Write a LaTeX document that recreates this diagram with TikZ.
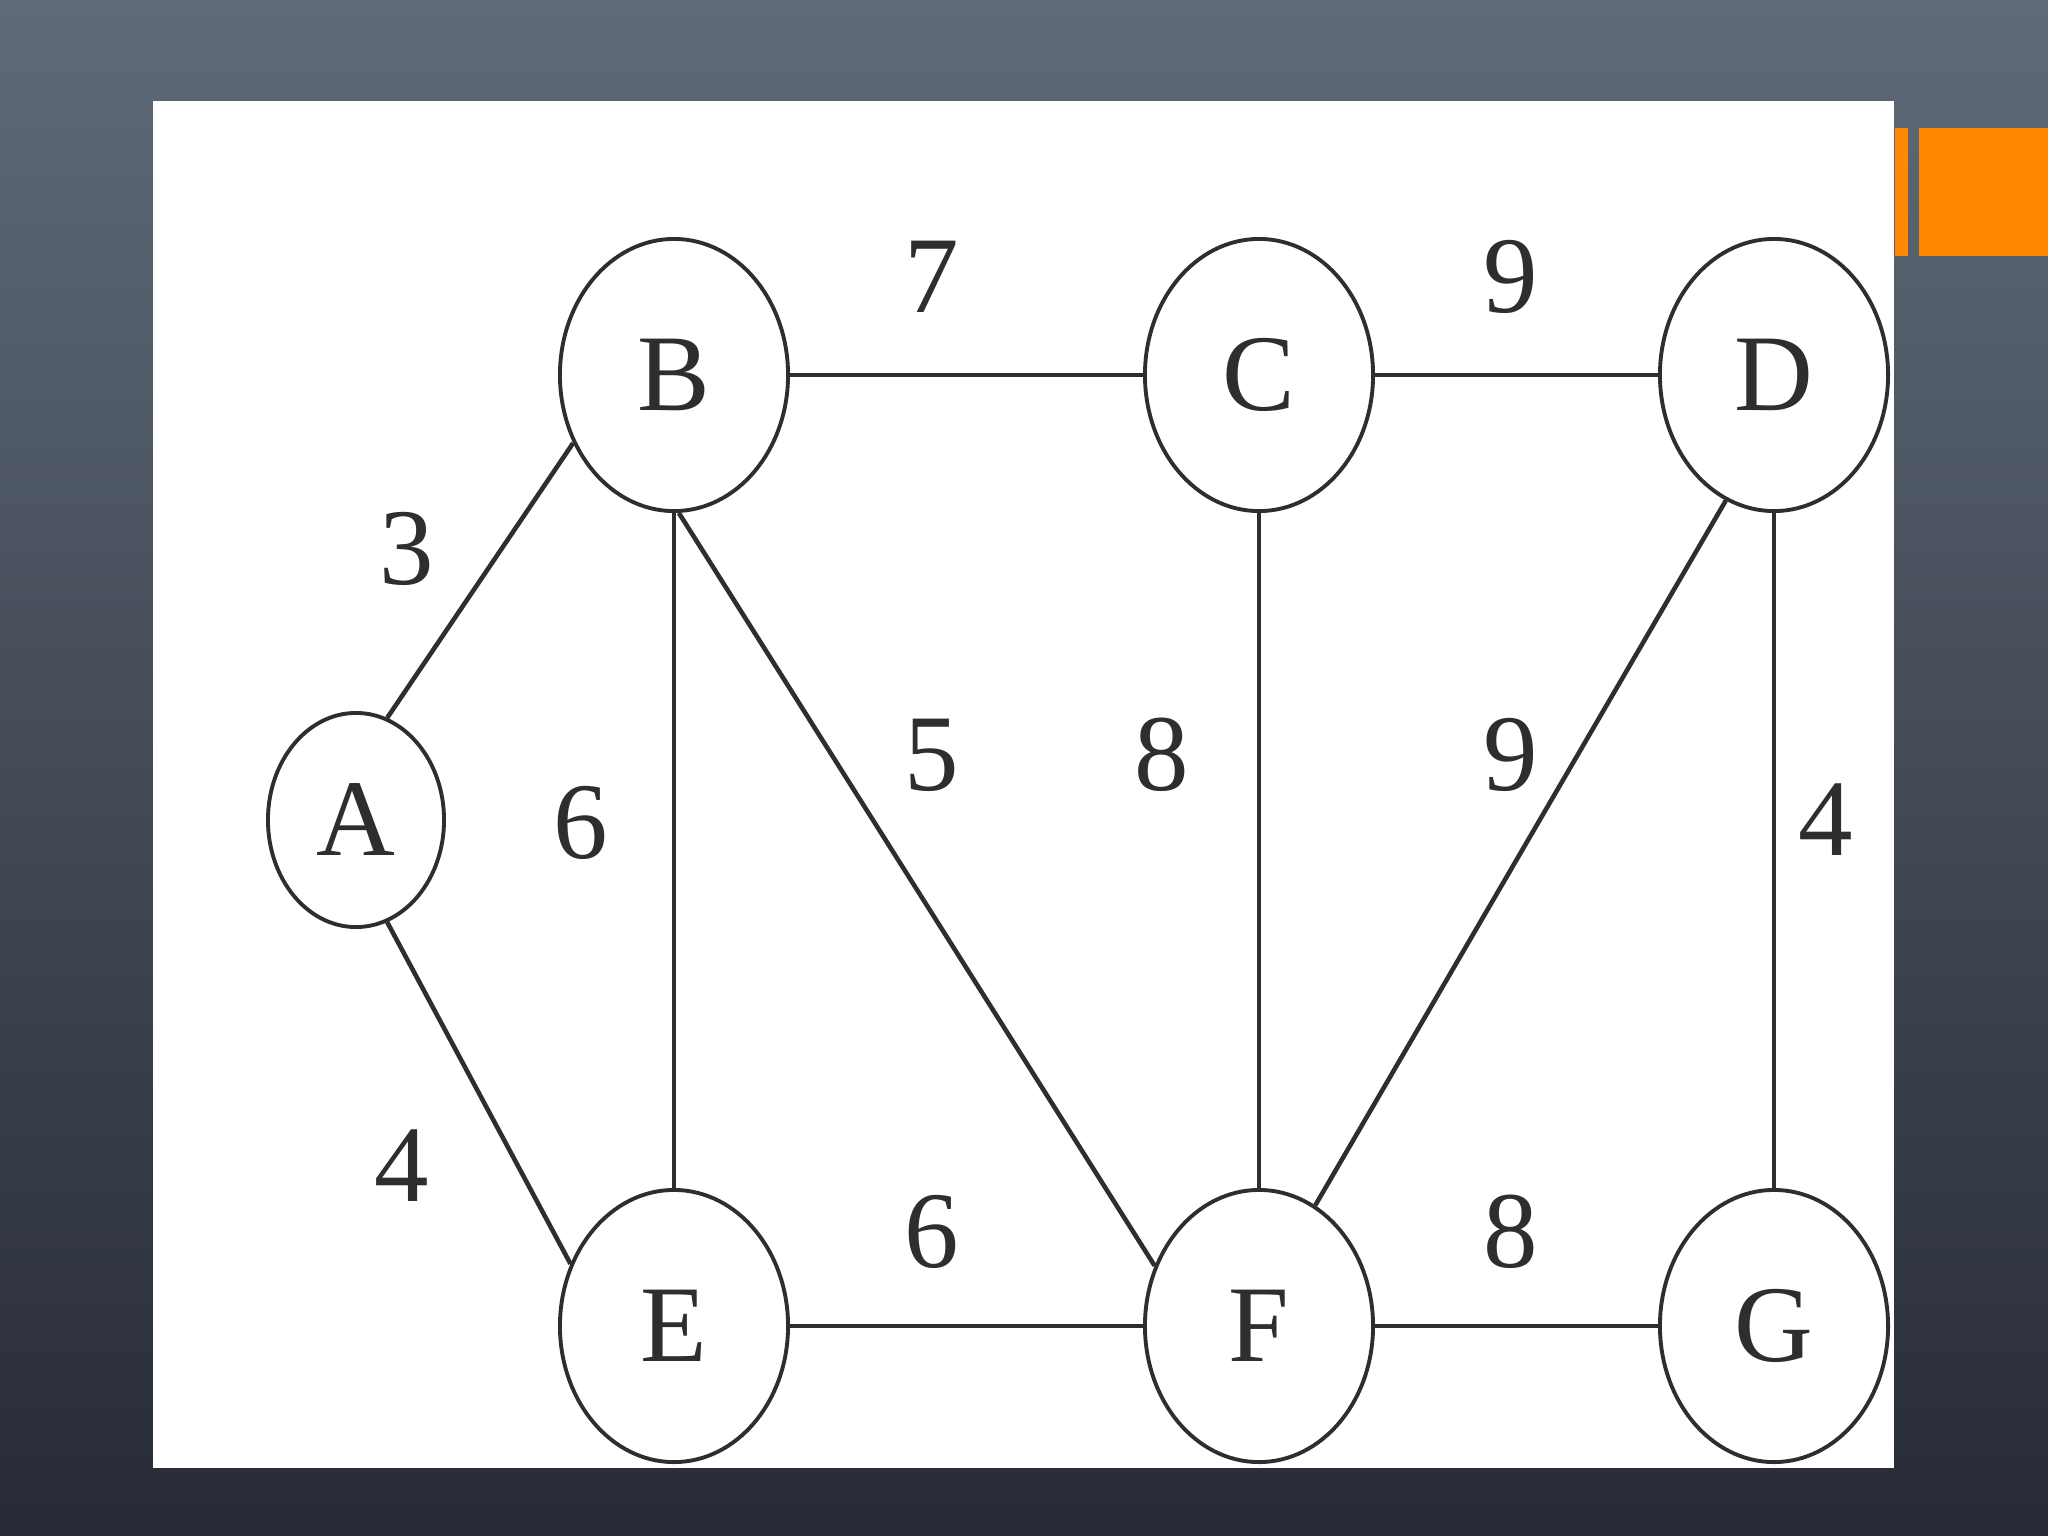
\documentclass[tikz,border=0pt]{standalone}
\usepackage{fontspec}
\setmainfont{Liberation Serif}
\usepackage{xcolor}
\usetikzlibrary{shapes.geometric}

\definecolor{slatetop}{HTML}{5F6A78}
\definecolor{slatebot}{HTML}{272B35}
\definecolor{accent}{HTML}{FF8800}
\definecolor{ink}{HTML}{2E2E2E}

\begin{document}
\begin{tikzpicture}[
    x=0.01cm, y=-0.01cm,
    vertex/.style={draw=ink, ellipse, line width=1.1pt, inner sep=0pt, minimum width=2.28cm, minimum height=2.72cm, font=\fontsize{31}{36}\selectfont, text=ink},
    smallvertex/.style={vertex, minimum width=1.76cm, minimum height=2.14cm},
    weight/.style={font=\fontsize{31}{36}\selectfont, text=ink, inner sep=0pt},
    edge/.style={draw=ink, line width=1.3pt}
]
\useasboundingbox (0,0) rectangle (2048,1536);
% slide background
\shade[top color=slatetop, bottom color=slatebot] (0,0) rectangle (2048,1536);
\fill[white] (153,101) rectangle (1894,1468);
\fill[accent] (1895,128) rectangle (1908,256);
\fill[accent] (1919,128) rectangle (2048,256);

% vertices
\node[smallvertex] (a) at (356,820) {A};
\node[vertex] (b) at (674,375) {B};
\node[vertex] (c) at (1259,375) {C};
\node[vertex] (d) at (1774,375) {D};
\node[vertex] (e) at (674,1326) {E};
\node[vertex] (f) at (1259,1326) {F};
\node[vertex] (g) at (1774,1326) {G};

% edges
\draw[edge] (a.73) -- (b.214);
\draw[edge] (a.-73) -- (e.149);
\draw[edge] (b) -- (c);
\draw[edge] (c) -- (d);
\draw[edge] (b) -- (e);
\draw[edge] (b.-88) -- (f.150);
\draw[edge] (c) -- (f);
\draw[edge] (d.249) -- (f.65);
\draw[edge] (d) -- (g);
\draw[edge] (e) -- (f);
\draw[edge] (f) -- (g);

% weights
\node[weight] (wab) at (407,549) {3};
\node[weight] (wae) at (402,1166) {4};
\node[weight] (wbc) at (932,277) {7};
\node[weight] (wcd) at (1511,277) {9};
\node[weight] (wbe) at (581,823) {6};
\node[weight] (wbf) at (932,755) {5};
\node[weight] (wcf) at (1162,755) {8};
\node[weight] (wdf) at (1511,755) {9};
\node[weight] (wdg) at (1826,820) {4};
\node[weight] (wef) at (932,1232) {6};
\node[weight] (wfg) at (1511,1232) {8};
\end{tikzpicture}
\end{document}
